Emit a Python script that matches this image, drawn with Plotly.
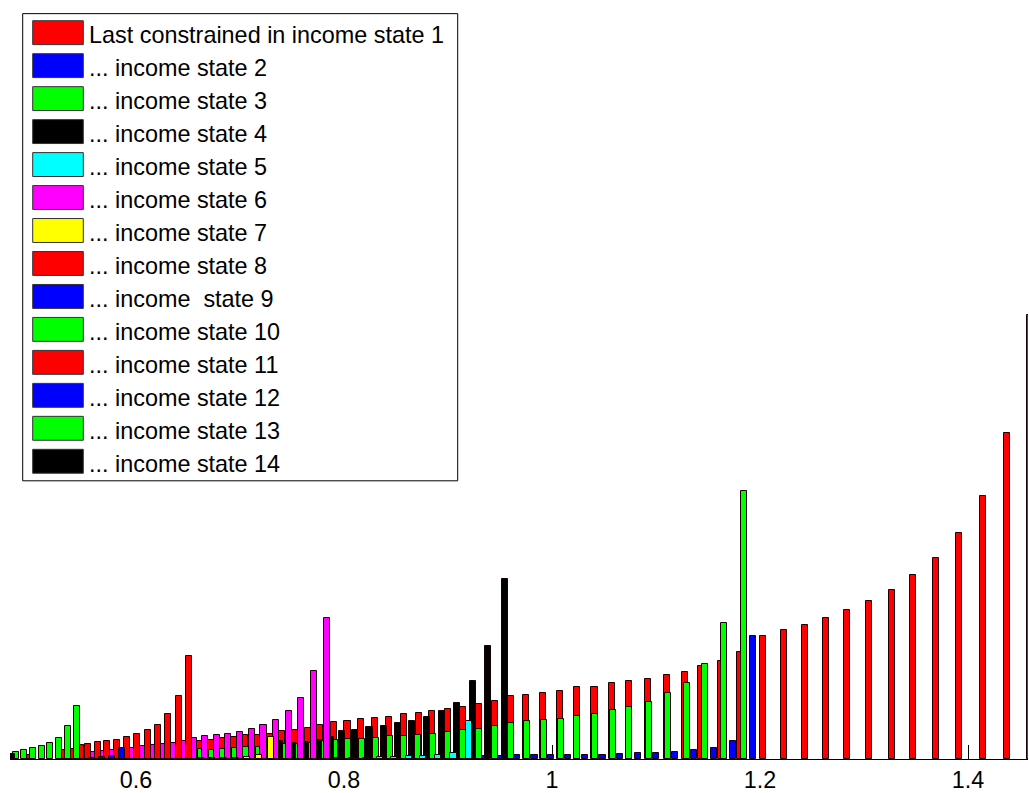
import plotly.graph_objects as go

# ---------------- data ----------------
labels = [
    "Last constrained in income state 1",
    "... income state 2",
    "... income state 3",
    "... income state 4",
    "... income state 5",
    "... income state 6",
    "... income state 7",
    "... income state 8",
    "... income \u00a0state 9",
    "... income state 10",
    "... income state 11",
    "... income state 12",
    "... income state 13",
    "... income state 14",
]
colors = ["#FF0000", "#0000FF", "#00FF00", "#000000", "#00FFFF", "#FF00FF", "#FFFF00",
          "#FF0000", "#0000FF", "#00FF00", "#FF0000", "#0000FF", "#00FF00", "#000000"]

x_s1 = [0.6615, 0.6721, 0.6827, 0.6942, 0.7048, 0.7173, 0.7288, 0.7404, 0.7529, 0.7654,
        0.7769, 0.7904, 0.8034, 0.8163, 0.8298, 0.8433, 0.8577, 0.8718, 0.8846, 0.9000,
        0.9144, 0.9298, 0.9449, 0.9603, 0.9750, 0.9911, 1.0077, 1.0240, 1.0409, 1.0577,
        1.0740, 1.0923, 1.1103, 1.1279, 1.1433, 1.1625, 1.1808, 1.2032, 1.2231, 1.2430,
        1.2635, 1.2839, 1.3048, 1.3266, 1.3474, 1.3692, 1.3916, 1.4147, 1.4378, 1.4602]
y_s1 = [0.180, 0.193, 0.213, 0.220, 0.237, 0.240, 0.253, 0.277, 0.287, 0.313,
        0.337, 0.370, 0.380, 0.397, 0.410, 0.420, 0.447, 0.460, 0.477, 0.500,
        0.520, 0.553, 0.587, 0.637, 0.647, 0.663, 0.687, 0.720, 0.727, 0.760,
        0.780, 0.807, 0.847, 0.877, 0.930, 0.987, 1.070, 1.230, 1.293, 1.347,
        1.413, 1.493, 1.587, 1.693, 1.843, 2.020, 2.270, 2.643, 3.277, 4.460]

x_s2 = [0.9346, 0.9500, 0.9663, 0.9832, 0.9990, 1.0154, 1.0317, 1.0486, 1.0654, 1.0827,
        1.1000, 1.1183, 1.1365, 1.1558, 1.1740, 1.1933]
y_s2 = [0.033, 0.030, 0.045, 0.045, 0.045, 0.045, 0.045, 0.045, 0.047, 0.060,
        0.060, 0.070, 0.087, 0.113, 0.177, 1.235]

x_s3 = [0.6625, 0.6731, 0.6839, 0.6952, 0.7061, 0.7183, 0.7423, 0.7538, 0.7654, 0.7779,
        0.7913, 0.8038, 0.8173, 0.8305, 0.8442, 0.8577, 0.8712, 0.8856, 0.9000, 0.9141,
        0.9298, 0.9452, 0.9603, 0.9757, 0.9923, 1.0084, 1.0243, 1.0413, 1.0584, 1.0740,
        1.0933, 1.1113, 1.1295, 1.1471, 1.1657, 1.1849]
y_s3 = [0.103, 0.093, 0.103, 0.110, 0.120, 0.120, 0.147, 0.147, 0.163, 0.177,
        0.187, 0.203, 0.203, 0.213, 0.227, 0.230, 0.243, 0.253, 0.267, 0.287,
        0.297, 0.327, 0.363, 0.377, 0.393, 0.403, 0.430, 0.453, 0.487, 0.527,
        0.577, 0.660, 0.763, 0.953, 1.370, 2.693]

x_s4 = [0.7385, 0.7510, 0.7635, 0.7760, 0.7875, 0.7981, 0.8106, 0.8245, 0.8385, 0.8519,
        0.8654, 0.8798, 0.8942, 0.9087, 0.9240, 0.9385, 0.9548]
y_s4 = [0.180, 0.160, 0.170, 0.193, 0.220, 0.277, 0.293, 0.317, 0.330, 0.360,
        0.385, 0.425, 0.480, 0.560, 0.787, 1.137, 1.803]

x_s5 = [0.7942, 0.8077, 0.8212, 0.8346, 0.8481, 0.8625, 0.8760, 0.8904, 0.9053, 0.9202]
y_s5 = [0.010, 0.013, 0.015, 0.023, 0.025, 0.027, 0.033, 0.045, 0.062, 0.378]

x_s6 = [0.5500, 0.5587, 0.5673, 0.5769, 0.5865, 0.5962, 0.6058, 0.6159, 0.6255, 0.6356,
        0.6462, 0.6558, 0.6663, 0.6779, 0.6885, 0.7000, 0.7115, 0.7226, 0.7349, 0.7471,
        0.7588, 0.7712, 0.7837]
y_s6 = [0.065, 0.070, 0.080, 0.090, 0.100, 0.110, 0.127, 0.137, 0.153, 0.163,
        0.177, 0.213, 0.227, 0.243, 0.253, 0.270, 0.297, 0.337, 0.395, 0.477,
        0.610, 0.880, 1.413]

x_s7 = [0.6625, 0.6731, 0.6846, 0.6962, 0.7067, 0.7183, 0.7298]
y_s7 = [0.010, 0.010, 0.010, 0.015, 0.025, 0.043, 0.220]

x_s8, y_s8 = [], []
x_s9, y_s9 = [], []
x_s10, y_s10 = [], []

x_s11 = [0.4962, 0.5295, 0.5385, 0.5471, 0.5538, 0.5632, 0.5718, 0.5817, 0.5911, 0.6007,
         0.6113, 0.6209, 0.6305, 0.6413, 0.6510]
y_s11 = [0.040, 0.087, 0.100, 0.137, 0.153, 0.167, 0.177, 0.193, 0.220, 0.247,
         0.287, 0.337, 0.447, 0.637, 1.037]

x_s12 = [0.5577, 0.5673, 0.5769, 0.5865]
y_s12 = [0.015, 0.025, 0.035, 0.110]

x_s13 = [0.4846, 0.4923, 0.5007, 0.5093, 0.5173, 0.5257, 0.5346, 0.5430]
y_s13 = [0.070, 0.087, 0.113, 0.127, 0.163, 0.213, 0.327, 0.537]

x_s14 = [0.4808]
y_s14 = [0.053]

xs = [x_s1, x_s2, x_s3, x_s4, x_s5, x_s6, x_s7, x_s8, x_s9, x_s10, x_s11, x_s12, x_s13, x_s14]
ys = [y_s1, y_s2, y_s3, y_s4, y_s5, y_s6, y_s7, y_s8, y_s9, y_s10, y_s11, y_s12, y_s13, y_s14]

tick_vals = [0.6, 0.8, 1.0, 1.2, 1.4]
tick_text = ["0.6", "0.8", "1", "1.2", "1.4"]

# ---------------- layout constants ----------------
W, H = 1029, 793
ML, MR, MT, MB = 10, 1, 0, 31
PW, PH = W - ML - MR, H - MT - MB
FONT = "Liberation Sans, Arial, sans-serif"
BAR_W = 0.006


def px_x(px):
    return (px - ML) / PW


def px_y(py):
    return (H - MB - py) / PH


fig = go.Figure()
for i in range(14):
    fig.add_trace(go.Bar(
        x=xs[i], y=ys[i], width=BAR_W, name=labels[i],
        marker=dict(color=colors[i], line=dict(color="#1a0000", width=1)),
        showlegend=False,
    ))

# manual legend (MATLAB style)
shapes = [dict(type="rect", xref="paper", yref="paper",
               x0=px_x(22.7), x1=px_x(457.7), y0=px_y(482.7), y1=px_y(13.7),
               line=dict(color="#000000", width=1), fillcolor="#FFFFFF", layer="above")]
annotations = []
for i in range(14):
    c = 32.8 + 33.1 * i
    shapes.append(dict(type="rect", xref="paper", yref="paper",
                       x0=px_x(32.7), x1=px_x(83.3), y0=px_y(c + 12), y1=px_y(c - 12),
                       line=dict(color="#333333", width=1), fillcolor=colors[i], layer="above"))
    annotations.append(dict(xref="paper", yref="paper", x=px_x(87), y=px_y(c + 2.5),
                            xanchor="left", yanchor="middle", text=labels[i], showarrow=False,
                            font=dict(family=FONT, size=23.4, color="#000000")))

fig.update_layout(
    width=W, height=H,
    margin=dict(l=ML, r=MR, t=MT, b=MB, pad=0),
    paper_bgcolor="#FFFFFF", plot_bgcolor="#FFFFFF",
    barmode="overlay", bargap=0,
    shapes=shapes, annotations=annotations,
    font=dict(family=FONT, size=23, color="#000000"),
    xaxis=dict(range=[0.4788, 1.4577], tickvals=tick_vals, ticktext=tick_text,
               showgrid=False, zeroline=False, showline=True, linecolor="#000000", linewidth=1,
               ticks="inside", ticklen=14, tickwidth=1, tickcolor="#000000",
               layer="below traces",
               tickfont=dict(family=FONT, size=23.3, color="#000000")),
    yaxis=dict(range=[0, 7.62], showgrid=False, zeroline=False, showline=False,
               showticklabels=False, ticks=""),
)

fig.write_html("out.html")
